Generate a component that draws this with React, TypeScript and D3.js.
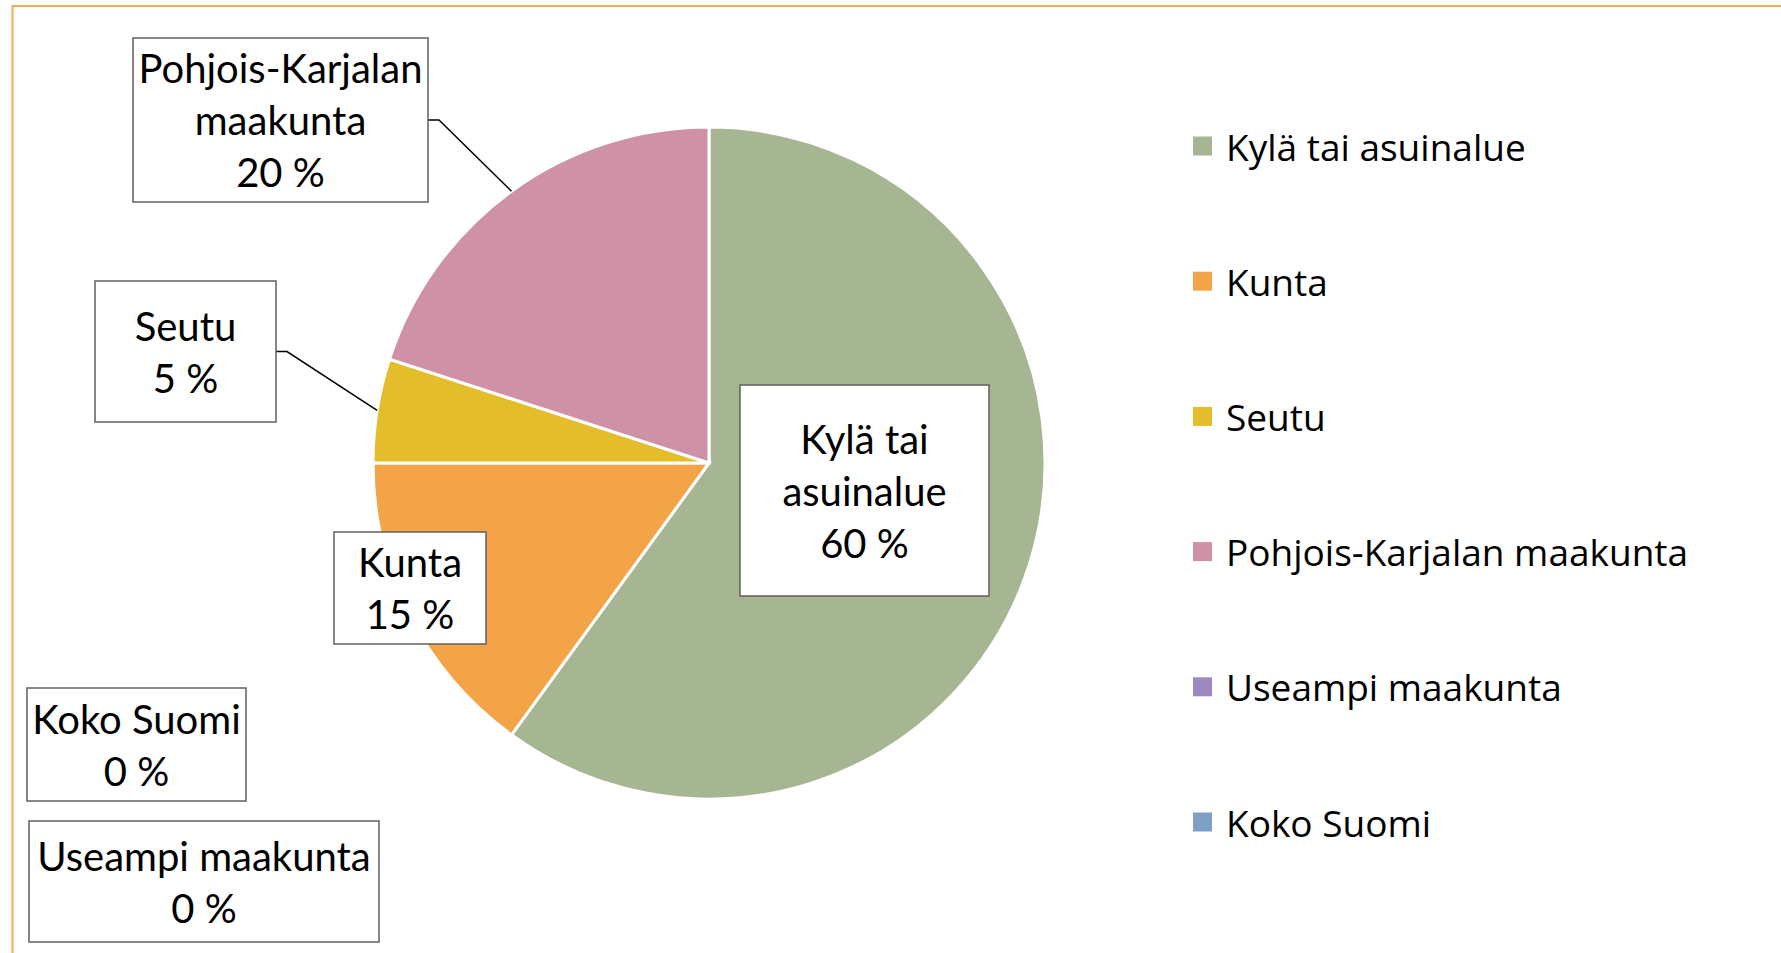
import React from "react";
import * as d3 from "d3";

const categories = [
  "Kylä tai asuinalue",
  "Kunta",
  "Seutu",
  "Pohjois-Karjalan maakunta",
  "Useampi maakunta",
  "Koko Suomi",
];
const values = [60, 15, 5, 20, 0, 0];
const labelLines = [
  ["Kylä tai", "asuinalue"],
  ["Kunta"],
  ["Seutu"],
  ["Pohjois-Karjalan", "maakunta"],
  ["Useampi maakunta"],
  ["Koko Suomi"],
];
const colors = ["#A6B592", "#F2A446", "#E4BD2A", "#CF91A6", "#9D88C2", "#7F9FC6"];

// layout: label boxes [x0, y0, x1, y1]
const labelBoxes = [
  [740, 385, 989, 596],
  [334, 532, 486, 644],
  [95, 281, 276, 422],
  [133, 38, 428, 202],
  [29, 821, 379, 942],
  [27, 688, 246, 801],
];
const leaderIdx = [2, 3];

const W = 1781;
const H = 953;
const cx = 709;
const cy = 463;
const R = 336;

export default function App() {
  const pie = d3.pie<number>().sort(null).value((d) => d)(values);
  const arc = d3.arc<d3.PieArcDatum<number>>().innerRadius(0).outerRadius(R);
  const total = d3.sum(values);
  const fmt = (v: number) => `${Math.round((v / total) * 100)} %`;
  const labelFont = "Lato, 'Open Sans', sans-serif";
  const legendFont = "'Open Sans', 'Noto Sans', sans-serif";
  const legendY = d3.scalePoint<string>().domain(categories).range([146, 822]);

  return (
    <svg
      width={W}
      height={H}
      style={{ position: "fixed", left: 0, top: 0, background: "#fff" }}
    >
      <rect x={0} y={0} width={W} height={H} fill="#fff" />
      <rect x={12.5} y={6} width={W + 20} height={H + 20} fill="none" stroke="#F5AC5A" strokeWidth={2} />
      <g transform={`translate(${cx},${cy})`}>
        {pie.map((p, i) =>
          p.value > 0 ? (
            <path key={i} d={arc(p) || ""} fill={colors[i]} stroke="#fff" strokeWidth={3} />
          ) : null
        )}
      </g>
      {leaderIdx.map((i) => {
        const p = pie[i];
        const mid = (p.startAngle + p.endAngle) / 2;
        const ex = cx + R * Math.sin(mid);
        const ey = cy - R * Math.cos(mid);
        const b = labelBoxes[i];
        const my = (b[1] + b[3]) / 2;
        return (
          <polyline
            key={i}
            points={`${b[2]},${my} ${b[2] + 11},${my} ${ex},${ey}`}
            fill="none"
            stroke="#000"
            strokeWidth={1.5}
          />
        );
      })}
      {pie.map((p, i) => {
        const b = labelBoxes[i];
        const lines = [...labelLines[i], fmt(p.value)];
        const lh = 52;
        const mx = (b[0] + b[2]) / 2;
        const my = (b[1] + b[3]) / 2;
        const y0 = my - ((lines.length - 1) * lh) / 2;
        return (
          <g key={i}>
            <rect
              x={b[0]}
              y={b[1]}
              width={b[2] - b[0]}
              height={b[3] - b[1]}
              fill="#fff"
              stroke="#5f5f5f"
              strokeWidth={1.5}
            />
            {lines.map((t, j) => (
              <text
                key={j}
                x={mx}
                y={y0 + j * lh}
                textAnchor="middle"
                dominantBaseline="central"
                fontFamily={labelFont}
                fontSize={40}
                fill="#000"
              >
                {t}
              </text>
            ))}
          </g>
        );
      })}
      {categories.map((c, i) => {
        const y = legendY(c)!;
        return (
          <g key={c}>
            <rect x={1193} y={y - 9.5} width={19} height={19} fill={colors[i]} />
            <text
              x={1226}
              y={y}
              dominantBaseline="central"
              fontFamily={legendFont}
              fontSize={37}
              fill="#000"
            >
              {c}
            </text>
          </g>
        );
      })}
    </svg>
  );
}
